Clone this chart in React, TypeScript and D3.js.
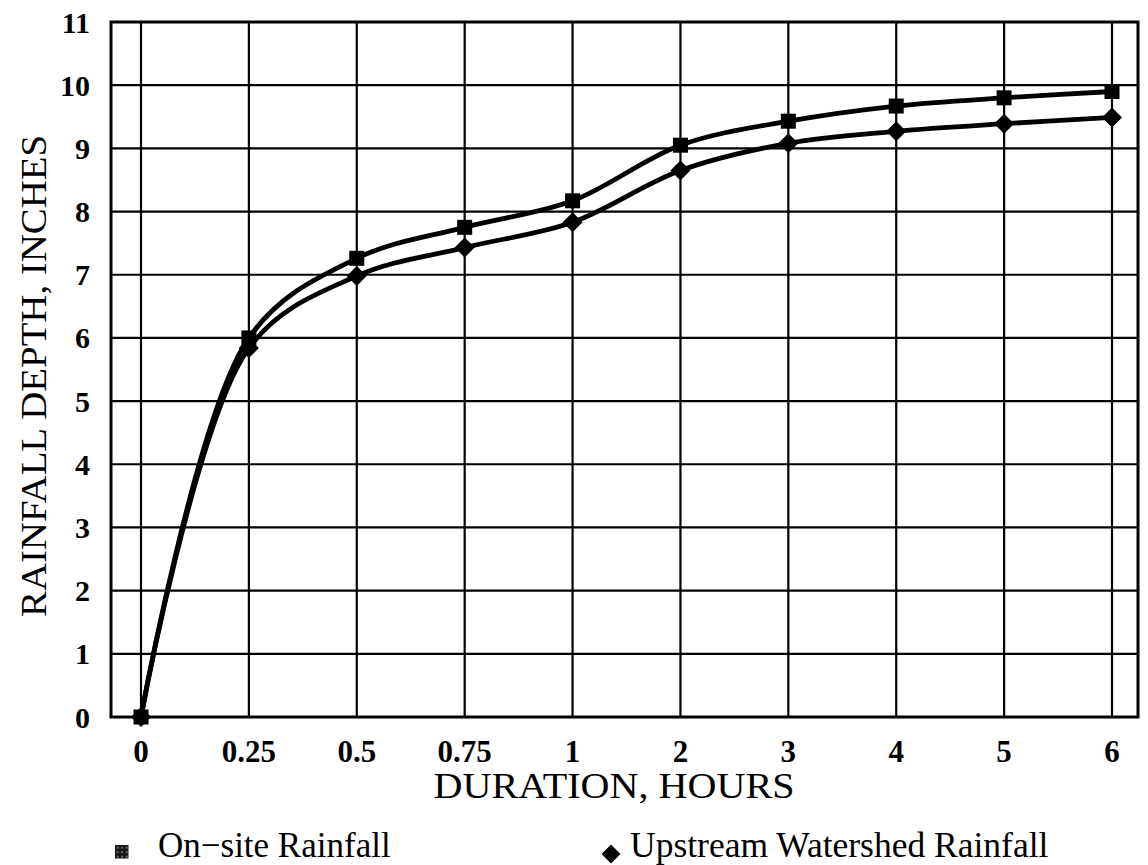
import React from "react";
import * as d3 from "d3";

const durations: string[] = ["0", "0.25", "0.5", "0.75", "1", "2", "3", "4", "5", "6"];
const onSite: number[] = [0, 6.0, 7.26, 7.75, 8.17, 9.05, 9.43, 9.67, 9.8, 9.9];
const upstream: number[] = [0, 5.84, 6.98, 7.43, 7.83, 8.65, 9.08, 9.27, 9.39, 9.49];
const yTicks: number[] = [0, 1, 2, 3, 4, 5, 6, 7, 8, 9, 10, 11];
const xTitle = "DURATION, HOURS";
const yTitle = "RAINFALL DEPTH, INCHES";
const legendOnSite = "On\u2212site Rainfall";
const legendUpstream = "Upstream Watershed Rainfall";

const W = 1148;
const H = 865;
const frame = { left: 111, right: 1138, top: 22, bottom: 717 };
const FONT = "'Liberation Serif', 'DejaVu Serif', 'Times New Roman', serif";

export default function App() {
  const x = d3.scalePoint<string>().domain(durations).range([141, 1112]).padding(0);
  const y = d3.scaleLinear().domain([0, 11]).range([frame.bottom, frame.top]);

  const line = d3
    .line<number>()
    .x((_, i) => x(durations[i]) as number)
    .y((d) => y(d))
    .curve(d3.curveCatmullRom.alpha(0.5));

  const sq = 15;
  const dm = 10;
  const diamond = (cx: number, cy: number, r: number) =>
    `M${cx},${cy - r}L${cx + r},${cy}L${cx},${cy + r}L${cx - r},${cy}Z`;

  return (
    <svg
      width={W}
      height={H}
      style={{ position: "absolute", left: 0, top: 0, display: "block", background: "#fff" }}
      fontFamily={FONT}
    >
      <defs>
        <pattern id="dots" width="4.5" height="4.5" patternUnits="userSpaceOnUse" x="115" y="845">
          <rect width="4.5" height="4.5" fill="#1a1a1a" />
          <rect x="2" y="2" width="1.3" height="1.3" fill="#bbb" />
        </pattern>
      </defs>
      <rect x={0} y={0} width={W} height={H} fill="#fff" />

      {yTicks.map((t) => (
        <line
          key={"h" + t}
          x1={frame.left}
          x2={frame.right}
          y1={y(t)}
          y2={y(t)}
          stroke="#000"
          strokeWidth={2.2}
        />
      ))}
      {durations.map((d) => (
        <line
          key={"v" + d}
          x1={x(d)}
          x2={x(d)}
          y1={frame.top}
          y2={frame.bottom}
          stroke="#000"
          strokeWidth={2.2}
        />
      ))}
      <rect
        x={frame.left}
        y={frame.top}
        width={frame.right - frame.left}
        height={frame.bottom - frame.top}
        fill="none"
        stroke="#000"
        strokeWidth={3}
      />

      <path d={line(onSite) || ""} fill="none" stroke="#000" strokeWidth={4.8} />
      <path d={line(upstream) || ""} fill="none" stroke="#000" strokeWidth={4.8} />

      {onSite.map((v, i) => (
        <rect
          key={"s" + i}
          x={(x(durations[i]) as number) - sq / 2}
          y={y(v) - sq / 2}
          width={sq}
          height={sq}
          fill="#000"
        />
      ))}
      {upstream.map((v, i) => (
        <path key={"d" + i} d={diamond(x(durations[i]) as number, y(v), dm)} fill="#000" />
      ))}

      {yTicks.map((t) => (
        <text
          key={"yt" + t}
          x={90}
          y={y(t)}
          dy="0.35em"
          textAnchor="end"
          fontSize={30}
          fontWeight="bold"
          fill="#000"
        >
          {t}
        </text>
      ))}
      {durations.map((d) => (
        <text
          key={"xt" + d}
          x={x(d)}
          y={762}
          textAnchor="middle"
          fontSize={31}
          fontWeight="bold"
          fill="#000"
        >
          {d}
        </text>
      ))}

      <text
        x={614}
        y={798}
        textAnchor="middle"
        fontSize={36}
        textLength={361}
        lengthAdjust="spacingAndGlyphs"
        fill="#000"
      >
        {xTitle}
      </text>
      <text
        transform={`translate(46,${376}) rotate(-90)`}
        textAnchor="middle"
        fontSize={36}
        textLength={482}
        lengthAdjust="spacingAndGlyphs"
        fill="#000"
      >
        {yTitle}
      </text>

      <rect x={115} y={845} width={13.5} height={13.5} fill="url(#dots)" />
      <text x={158} y={857} fontSize={35} fill="#000">
        {legendOnSite}
      </text>
      <path d={diamond(611, 854, 9.5)} fill="#000" />
      <text x={630} y={857} fontSize={35.5} fill="#000">
        {legendUpstream}
      </text>
    </svg>
  );
}
